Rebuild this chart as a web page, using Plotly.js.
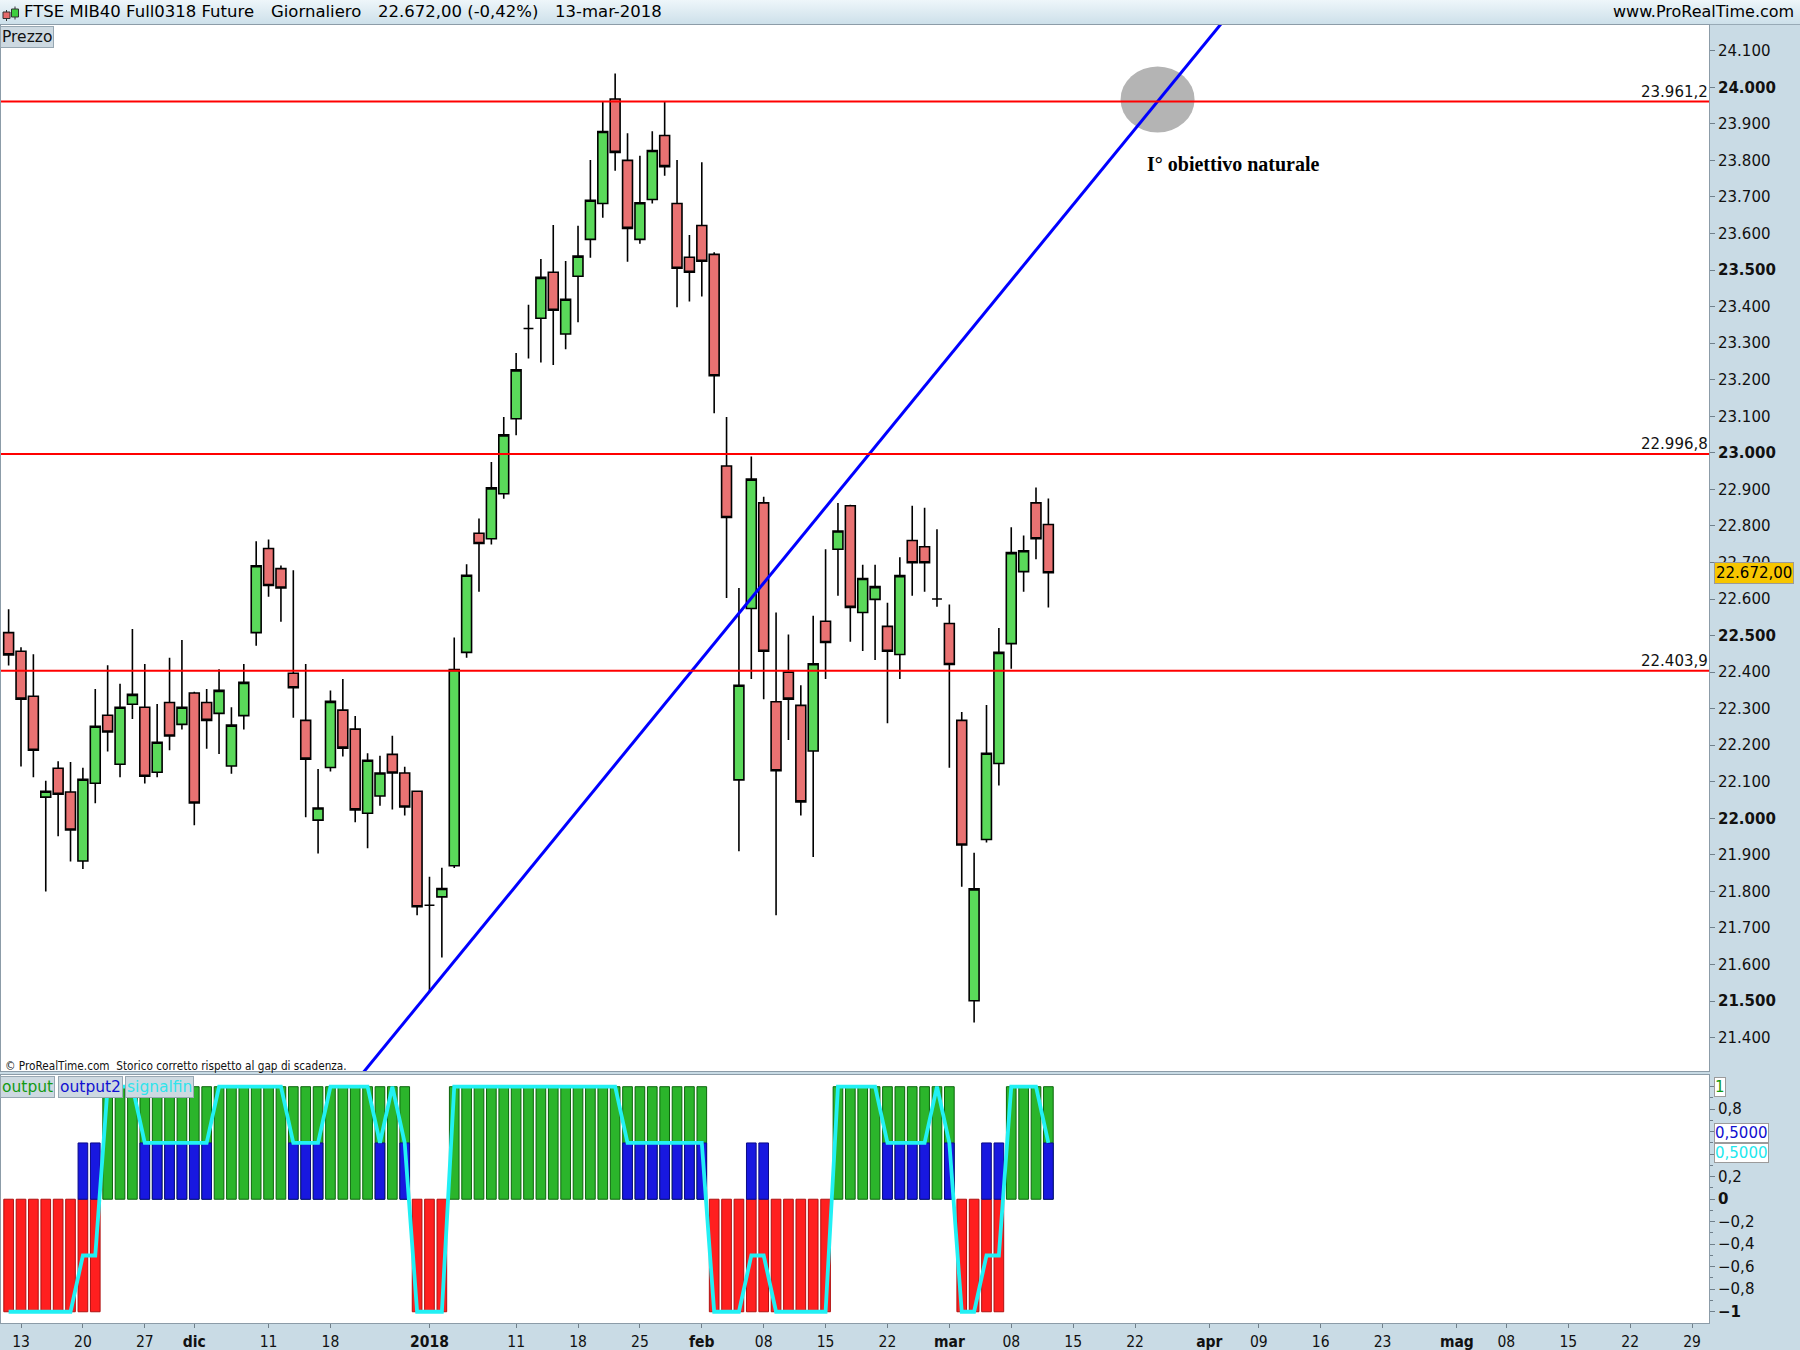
<!DOCTYPE html>
<html>
<head>
<meta charset="utf-8">
<script src="https://cdn.plot.ly/plotly-3.0.1.min.js"></script>
<style>
  html, body { margin: 0; padding: 0; background: #c9dbe5; }
  #hdr { position: absolute; left: 0; top: 0; width: 1800px; height: 24px;
         background: linear-gradient(#eef6fa, #cde0ea); border-bottom: 1px solid #98aab6; }
  #chart { position: absolute; left: 0; top: 0; width: 1800px; height: 1350px; }
</style>
</head>
<body>
<div id="hdr"></div>
<div id="chart"></div>
<script>
// ---- session calendar (Borsa Italiana trading days) ----
const holidays = ['2017-12-25', '2017-12-26', '2018-01-01', '2018-03-30', '2018-04-02', '2018-05-01'];
const sessions = [];
for (let d = new Date(Date.UTC(2017, 10, 10)); d <= new Date(Date.UTC(2018, 4, 31)); d.setUTCDate(d.getUTCDate() + 1)) {
  const wd = d.getUTCDay();
  const s = d.toISOString().slice(0, 10);
  if (wd !== 0 && wd !== 6 && !holidays.includes(s)) sessions.push(s);
}
const pos = s => sessions.indexOf(s);

// ---- daily candles ----
const dates = [
  '2017-11-10',
  '2017-11-13','2017-11-14','2017-11-15','2017-11-16','2017-11-17',
  '2017-11-20','2017-11-21','2017-11-22','2017-11-23','2017-11-24',
  '2017-11-27','2017-11-28','2017-11-29','2017-11-30','2017-12-01',
  '2017-12-04','2017-12-05','2017-12-06','2017-12-07','2017-12-08',
  '2017-12-11','2017-12-12','2017-12-13','2017-12-14','2017-12-15',
  '2017-12-18','2017-12-19','2017-12-20','2017-12-21','2017-12-22',
  '2017-12-27','2017-12-28','2017-12-29',
  '2018-01-02','2018-01-03','2018-01-04','2018-01-05',
  '2018-01-08','2018-01-09','2018-01-10','2018-01-11','2018-01-12',
  '2018-01-15','2018-01-16','2018-01-17','2018-01-18','2018-01-19',
  '2018-01-22','2018-01-23','2018-01-24','2018-01-25','2018-01-26',
  '2018-01-29','2018-01-30','2018-01-31','2018-02-01','2018-02-02',
  '2018-02-05','2018-02-06','2018-02-07','2018-02-08','2018-02-09',
  '2018-02-12','2018-02-13','2018-02-14','2018-02-15','2018-02-16',
  '2018-02-19','2018-02-20','2018-02-21','2018-02-22','2018-02-23',
  '2018-02-26','2018-02-27','2018-02-28','2018-03-01','2018-03-02',
  '2018-03-05','2018-03-06','2018-03-07','2018-03-08','2018-03-09',
  '2018-03-12','2018-03-13'
];
const open = [22508,22457,22334,22058,22137,22072,21883,22096,22282,22148,22312,22304,22126,22317,22257,22343,22317,22287,22143,22281,
  22508,22738,22683,22397,22268,21995,22139,22296,22244,22014,22061,22175,22124,22074,21762,21785,21870,22454,22780,22765,
  22888,23093,23340,23368,23494,23325,23483,23584,23682,23968,23800,23584,23693,23868,23682,23535,23622,23543,22964,22105,
  22574,22863,22319,22400,22309,22184,22539,22736,22855,22563,22599,22525,22448,22760,22743,22600,22533,22268,21501,21942,
  22150,22478,22675,22863,22804];
const high = [22572,22468,22449,22103,22156,22154,22138,22354,22419,22368,22518,22422,22313,22439,22488,22346,22354,22408,22304,22422,
  22758,22763,22692,22679,22422,22135,22350,22381,22280,22178,22171,22226,22141,22076,21840,21865,22495,22695,22820,22975,
  23098,23273,23405,23530,23623,23525,23621,23801,23960,24038,23874,23813,23880,23960,23801,23596,23795,23549,23098,22630,
  22990,22880,22563,22503,22364,22554,22736,22863,22858,22694,22694,22590,22714,22855,22850,22791,22585,22291,21906,22310,
  22521,22796,22774,22905,22875];
const low = [22418,22142,22112,21800,21951,21882,21861,22041,22183,22112,22272,22095,22112,22186,22243,21981,22190,22176,22122,22243,
  22472,22606,22538,22275,22003,21904,22128,22169,21989,21918,22034,22024,22008,21735,21526,21619,21864,22439,22620,22749,
  22874,23048,23258,23247,23240,23283,23357,23534,23643,23772,23523,23572,23682,23758,23398,23414,23428,23108,22603,21910,
  22381,22326,21735,22214,22008,21894,22381,22609,22483,22458,22433,22260,22381,22609,22620,22579,22138,21813,21441,21934,
  22090,22409,22620,22709,22577];
const close = [22447,22326,22186,22074,22066,21968,22107,22252,22236,22304,22339,22115,22208,22225,22304,22042,22268,22350,22255,22372,
  22691,22637,22630,22357,22162,22028,22320,22192,22023,22159,22124,22124,22031,21758,21762,21808,22407,22665,22752,22904,
  23049,23227,23340,23480,23390,23420,23538,23691,23879,23822,23614,23684,23827,23783,23505,23494,23524,23211,22823,22364,
  22928,22457,22130,22326,22045,22423,22481,22786,22577,22656,22634,22457,22664,22699,22699,22600,22421,21927,21807,22178,
  22454,22727,22732,22765,22672];

// ---- oscillator series ----
const output = [-1,-1,-1,-1,-1,-1,-1,-1,
  1,1,1,1,1,1,1,1,1,1,1,1,1,1,1,1,1,1,1,1,1,1,1,1,1,
  -1,-1,-1,
  1,1,1,1,1,1,1,1,1,1,1,1,1,1,1,1,1,1,1,1,1,
  -1,-1,-1,-1,-1,-1,-1,-1,-1,-1,
  1,1,1,1,1,1,1,1,1,1,
  -1,-1,-1,-1,
  1,1,1,1];
const output2 = [0,0,0,0,0,0,0.5,0.5,0,0,0,
  0.5,0.5,0.5,0.5,0.5,0.5,
  0,0,0,0,0,0,
  0.5,0.5,0.5,
  0,0,0,0,
  0.5,0,0.5,
  0,0,0,0,0,0,0,0,0,0,0,0,0,0,0,0,0,
  0.5,0.5,0.5,0.5,0.5,0.5,0.5,
  0,0,0,
  0.5,0.5,
  0,0,0,0,0,0,0,0,0,
  0.5,0.5,0.5,0.5,
  0,0.5,
  0,0,
  0.5,0.5,
  0,0,0,
  0.5];
const signalfin = [-1,-1,-1,-1,-1,-1,-0.5,-0.5,1,1,1,
  0.5,0.5,0.5,0.5,0.5,0.5,
  1,1,1,1,1,1,
  0.5,0.5,0.5,
  1,1,1,1,
  0.5,1,0.5,
  -1,-1,-1,1,1,1,1,1,1,1,1,1,1,1,1,1,1,
  0.5,0.5,0.5,0.5,0.5,0.5,0.5,
  -1,-1,-1,
  -0.5,-0.5,
  -1,-1,-1,-1,-1,
  1,1,1,1,
  0.5,0.5,0.5,0.5,
  1,0.5,
  -1,-1,
  -0.5,-0.5,
  1,1,1,
  0.5];

// ---- horizontal levels and trend line ----
const levels = [23961.2, 22996.8, 22403.9];
const levelText = ['23.961,2', '22.996,8', '22.403,9'];
const trendStart = { date: '2018-01-02', price: 21526 };
const trendSlope = 41.4;            // points per session
const targetLevel = 23961.2;
const targetText = 'I° obiettivo naturale';
const lastPrice = 22672.00;
const lastPriceText = '22.672,00';

// ---- axis ticks ----
const priceTicks = [21400,21500,21600,21700,21800,21900,22000,22100,22200,22300,22400,22500,22600,22700,
  22800,22900,23000,23100,23200,23300,23400,23500,23600,23700,23800,23900,24000,24100];
const oscTicks = [1, 0.8, 0.6, 0.4, 0.2, 0, -0.2, -0.4, -0.6, -0.8, -1];
// 1, 0,6 and 0,4 sit under the value boxes of the series
const oscTickText = ['', '0,8', '', '', '0,2', '<b>0</b>', '−0,2', '−0,4', '−0,6', '−0,8', '<b>−1</b>'];
const dateTickDates = ['2017-11-13','2017-11-20','2017-11-27','2017-12-01','2017-12-11','2017-12-18','2018-01-02',
  '2018-01-11','2018-01-18','2018-01-25','2018-02-01','2018-02-08','2018-02-15','2018-02-22','2018-03-01',
  '2018-03-08','2018-03-15','2018-03-22','2018-04-03','2018-04-09','2018-04-16','2018-04-23','2018-05-02',
  '2018-05-08','2018-05-15','2018-05-22','2018-05-29'];
const dateTickText = ['13','20','27','<b>dic</b>','11','18','<b>2018</b>','11','18','25','<b>feb</b>','08','15','22',
  '<b>mar</b>','08','15','22','<b>apr</b>','09','16','23','<b>mag</b>','08','15','22','29'];

// ---- geometry helpers (page pixels -> paper coords) ----
const PL = 1, PR = 1709, PT = 25, PB = 1323;
const pX = x => (x - PL) / (PR - PL);
const pY = y => (PB - y) / (PB - PT);

const fmtPrice = v => {
  const s = String(v);
  return s.slice(0, s.length - 3) + '.' + s.slice(-3);
};

const xs = dates.map(pos);
const xRange = [-0.616, 137.37];

const FONT = 'DejaVu Sans, Verdana, sans-serif';
const CFONT = 'DejaVu Sans Condensed, Liberation Sans Narrow, DejaVu Sans, sans-serif';

// trend line end points
const t0 = pos(trendStart.date);
const trendX = [t0 - 7, t0 + 70];
const trendY = trendX.map(x => trendStart.price + trendSlope * (x - t0));
const crossX = t0 + (targetLevel - trendStart.price) / trendSlope;

const traces = [
  {
    type: 'candlestick', x: xs, open: open, high: high, low: low, close: close,
    xaxis: 'x', yaxis: 'y', whiskerwidth: 0, hoverinfo: 'skip', showlegend: false,
    increasing: { fillcolor: '#5ad95a', line: { color: '#000000', width: 1.6 } },
    decreasing: { fillcolor: '#e97272', line: { color: '#000000', width: 1.6 } }
  },
  {
    type: 'scatter', mode: 'lines', x: trendX, y: trendY, xaxis: 'x', yaxis: 'y',
    line: { color: '#0000ff', width: 3 }, hoverinfo: 'skip', showlegend: false
  },
  {
    type: 'bar', name: 'output', x: xs, y: output, xaxis: 'x2', yaxis: 'y2', width: 0.78,
    marker: { color: output.map(v => v > 0 ? '#2bb52b' : '#ff1f1f'),
              line: { color: output.map(v => v > 0 ? '#0c650c' : '#b01010'), width: 1 } },
    hoverinfo: 'skip', showlegend: false
  },
  {
    type: 'bar', name: 'output2', x: xs, y: output2.map(v => v === 0 ? null : v), xaxis: 'x2', yaxis: 'y2', width: 0.78,
    marker: { color: '#1818e0', line: { color: '#0a0a88', width: 1 } },
    hoverinfo: 'skip', showlegend: false
  },
  {
    type: 'scatter', mode: 'lines', name: 'signalfin', x: xs, y: signalfin, xaxis: 'x2', yaxis: 'y2',
    line: { color: '#22f0f4', width: 3.8 }, hoverinfo: 'skip', showlegend: false
  }
];

const shapes = levels.map(v => ({
  type: 'line', xref: 'paper', yref: 'y', x0: 0, x1: 1, y0: v, y1: v,
  line: { color: '#ff0000', width: 2 }, layer: 'above'
}));
shapes.push({
  type: 'circle', xref: 'x', yref: 'y', xsizemode: 'pixel', ysizemode: 'pixel',
  xanchor: crossX, yanchor: targetLevel, x0: -37, x1: 37, y0: -31, y1: 35,
  fillcolor: '#b4b4b4', line: { width: 0 }, layer: 'below'
});
// small candle icon in the header
shapes.push(
  { type: 'line', xref: 'paper', yref: 'paper', x0: pX(6.5), x1: pX(6.5), y0: pY(10), y1: pY(21), line: { color: '#333', width: 1 } },
  { type: 'rect', xref: 'paper', yref: 'paper', x0: pX(3), x1: pX(10), y0: pY(12), y1: pY(18.5), fillcolor: '#e56a6a', line: { color: '#333', width: 1 } },
  { type: 'line', xref: 'paper', yref: 'paper', x0: pX(15), x1: pX(15), y0: pY(6.5), y1: pY(19.5), line: { color: '#333', width: 1 } },
  { type: 'rect', xref: 'paper', yref: 'paper', x0: pX(11.5), x1: pX(18.5), y0: pY(9), y1: pY(17), fillcolor: '#3fcf3f', line: { color: '#333', width: 1 } }
);

const ann = [];
levels.forEach((v, i) => ann.push({
  xref: 'paper', yref: 'y', x: 1, y: v, xanchor: 'right', yanchor: 'bottom', showarrow: false,
  text: levelText[i], font: { family: FONT, size: 15, color: '#111' }, borderpad: 0
}));
ann.push({
  xref: 'x', yref: 'y', x: crossX - 1.05, y: 23790, xanchor: 'left', yanchor: 'middle', showarrow: false,
  text: '<b>' + targetText + '</b>', font: { family: 'Liberation Serif, Times New Roman, serif', size: 20, color: '#000' }
});
ann.push({
  xref: 'paper', yref: 'y', x: pX(1714), y: lastPrice, xanchor: 'left', yanchor: 'middle', showarrow: false,
  text: lastPriceText, font: { family: FONT, size: 15, color: '#000' }, bgcolor: '#f7c600', bordercolor: '#9b9b9b',
  borderwidth: 1, borderpad: 1
});
// header
const HF = { family: FONT, size: 16.5, color: '#000' };
ann.push(
  { xref: 'paper', yref: 'paper', x: pX(22), y: pY(12), xanchor: 'left', yanchor: 'middle', showarrow: false,
    text: 'FTSE MIB40 Full0318 Future', font: HF },
  { xref: 'paper', yref: 'paper', x: pX(269), y: pY(12), xanchor: 'left', yanchor: 'middle', showarrow: false,
    text: 'Giornaliero', font: HF },
  { xref: 'paper', yref: 'paper', x: pX(376), y: pY(12), xanchor: 'left', yanchor: 'middle', showarrow: false,
    text: '22.672,00 (-0,42%)', font: HF },
  { xref: 'paper', yref: 'paper', x: pX(553), y: pY(12), xanchor: 'left', yanchor: 'middle', showarrow: false,
    text: '13-mar-2018', font: HF },
  { xref: 'paper', yref: 'paper', x: pX(1796), y: pY(12), xanchor: 'right', yanchor: 'middle', showarrow: false,
    text: 'www.ProRealTime.com', font: { family: FONT, size: 16, color: '#000' } }
);
// panel tags
const TAG = { bgcolor: '#cdd9e1', bordercolor: '#97a7b2', borderwidth: 1, borderpad: 1, showarrow: false,
              xref: 'paper', yref: 'paper', xanchor: 'left', yanchor: 'top' };
ann.push(
  Object.assign({}, TAG, { x: pX(0), y: pY(25.5), text: 'Prezzo', font: { family: FONT, size: 15.5, color: '#111' } }),
  { xref: 'paper', yref: 'paper', x: pX(3), y: pY(1066), xanchor: 'left', yanchor: 'middle', showarrow: false,
    text: '© ProRealTime.com  Storico corretto rispetto al gap di scadenza.', font: { family: CFONT, size: 11.7, color: '#111' } },
  Object.assign({}, TAG, { x: pX(0), y: pY(1076), text: 'output', font: { family: FONT, size: 15.5, color: '#139913' } }),
  Object.assign({}, TAG, { x: pX(57.5), y: pY(1076), text: 'output2', font: { family: FONT, size: 15.5, color: '#1010d0' } }),
  Object.assign({}, TAG, { x: pX(124.5), y: pY(1076), text: 'signalfin', font: { family: FONT, size: 15.5, color: '#30e4ec' } })
);
// last values of the oscillator series
ann.push(
  { xref: 'paper', yref: 'y2', x: pX(1714), y: output[output.length - 1], xanchor: 'left', yanchor: 'middle', showarrow: false,
    text: '1', font: { family: FONT, size: 15, color: '#139913' }, bgcolor: '#ffffff', bordercolor: '#9b9b9b', borderwidth: 1, borderpad: 0 },
  { xref: 'paper', yref: 'y2', x: pX(1714), y: output2[output2.length - 1], xanchor: 'left', yanchor: 'bottom', showarrow: false,
    text: '0,5000', font: { family: FONT, size: 15, color: '#1010d0' }, bgcolor: '#ffffff', bordercolor: '#9b9b9b', borderwidth: 1, borderpad: 0 },
  { xref: 'paper', yref: 'y2', x: pX(1714), y: signalfin[signalfin.length - 1], xanchor: 'left', yanchor: 'top', showarrow: false,
    text: '0,5000', font: { family: FONT, size: 15, color: '#22e8ee' }, bgcolor: '#ffffff', bordercolor: '#9b9b9b', borderwidth: 1, borderpad: 0 }
);

const frame = { showline: true, mirror: true, linecolor: '#8c9ca8', linewidth: 1, zeroline: false, showgrid: false };

const layout = {
  width: 1800, height: 1350,
  margin: { l: PL, r: 1800 - PR, t: PT, b: 1350 - PB, pad: 0 },
  paper_bgcolor: 'rgba(0,0,0,0)', plot_bgcolor: '#ffffff',
  showlegend: false, barmode: 'overlay', boxgap: 0.2, boxgroupgap: 0, bargap: 0,
  xaxis: Object.assign({}, frame, {
    domain: [0, 1], anchor: 'y', range: xRange, showticklabels: false, ticks: '',
    rangeslider: { visible: false }, fixedrange: true
  }),
  yaxis: Object.assign({}, frame, {
    domain: [pY(1071), 1], anchor: 'x', side: 'right', range: [21308.6, 24170.5],
    tickmode: 'array', tickvals: priceTicks,
    ticktext: priceTicks.map(v => v % 500 === 0 ? '<b>' + fmtPrice(v) + '</b>' : fmtPrice(v)),
    ticks: 'outside', ticklen: 5, tickcolor: '#6f7f8a', tickwidth: 1,
    tickfont: { family: FONT, size: 15, color: '#111' }
  }),
  xaxis2: Object.assign({}, frame, {
    domain: [0, 1], anchor: 'y2', range: xRange,
    tickmode: 'array', tickvals: dateTickDates.map(pos), ticktext: dateTickText,
    ticks: 'outside', ticklen: 4, tickcolor: '#6f7f8a', tickwidth: 1, tickangle: 0,
    tickfont: { family: CFONT, size: 15.5, color: '#111' }
  }),
  yaxis2: Object.assign({}, frame, {
    domain: [0, pY(1075)], anchor: 'x2', side: 'right', range: [-1.1, 1.104],
    tickmode: 'array', tickvals: oscTicks, ticktext: oscTickText,
    ticks: 'outside', ticklen: 5, tickcolor: '#6f7f8a', tickwidth: 1,
    minor: { tickvals: [0.9, 0.7, 0.5, 0.3, 0.1, -0.1, -0.3, -0.5, -0.7, -0.9], ticks: 'outside', ticklen: 3, tickcolor: '#6f7f8a' },
    tickfont: { family: FONT, size: 15, color: '#111' }
  }),
  shapes: shapes,
  annotations: ann
};

Plotly.newPlot('chart', traces, layout, { displayModeBar: false, staticPlot: true });
</script>
</body>
</html>
